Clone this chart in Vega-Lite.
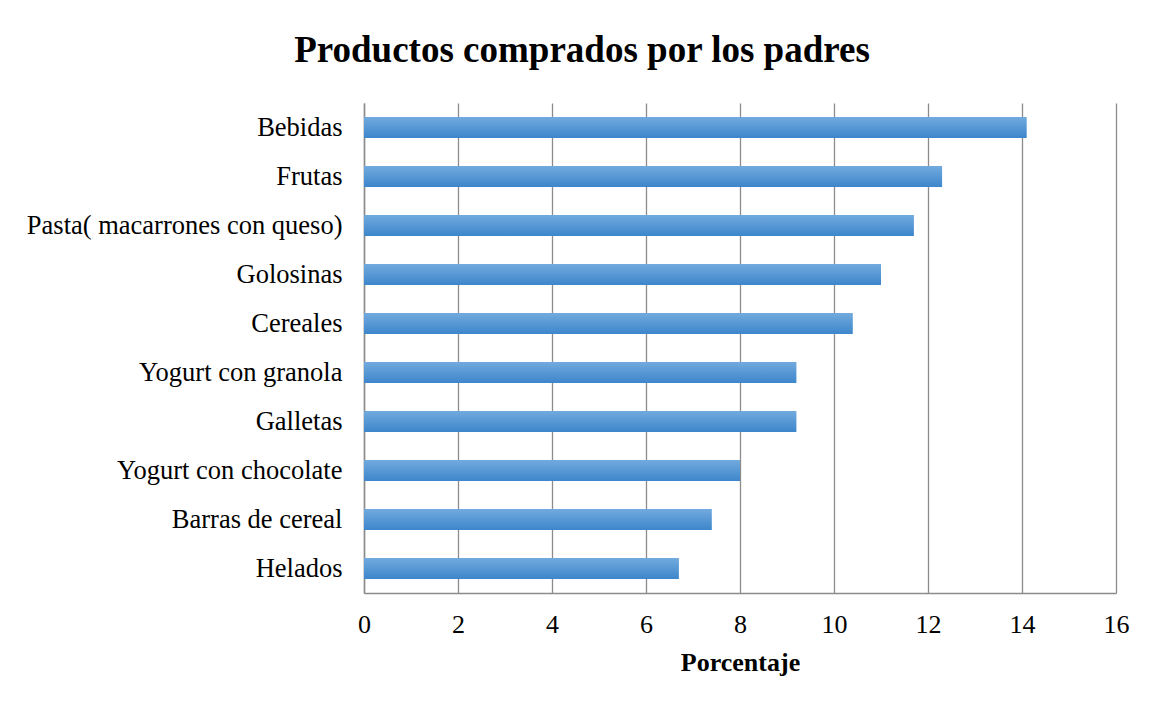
{
  "$schema": "https://vega.github.io/schema/vega-lite/v6.json",
  "width": 752,
  "height": 490,
  "autosize": {"type": "none"},
  "padding": {"left": 364, "top": 103, "right": 33, "bottom": 113},
  "background": "white",
  "title": {
    "text": "Productos comprados por los padres",
    "font": "Liberation Serif",
    "fontSize": 37,
    "fontWeight": "bold",
    "color": "#000000",
    "anchor": "middle",
    "dx": -158,
    "offset": 33
  },
  "data": {
    "values": [
      {"producto": "Bebidas", "valor": 14.1},
      {"producto": "Frutas", "valor": 12.3},
      {"producto": "Pasta( macarrones con queso)", "valor": 11.7},
      {"producto": "Golosinas", "valor": 11.0},
      {"producto": "Cereales", "valor": 10.4},
      {"producto": "Yogurt con granola", "valor": 9.2},
      {"producto": "Galletas", "valor": 9.2},
      {"producto": "Yogurt con chocolate", "valor": 8.0},
      {"producto": "Barras de cereal", "valor": 7.4},
      {"producto": "Helados", "valor": 6.7}
    ]
  },
  "mark": {
    "type": "bar",
    "color": {
      "gradient": "linear",
      "x1": 0, "y1": 0, "x2": 0, "y2": 1,
      "stops": [
        {"offset": 0, "color": "#72aade"},
        {"offset": 1, "color": "#3d86cb"}
      ]
    }
  },
  "encoding": {
    "y": {
      "field": "producto",
      "type": "nominal",
      "sort": null,
      "scale": {"paddingInner": 0.57, "paddingOuter": 0.285},
      "axis": {
        "title": null,
        "labelFont": "Liberation Serif",
        "labelFontSize": 26.5,
        "labelColor": "#000000",
        "labelPadding": 22,
        "ticks": false,
        "domainColor": "#8c8c8c",
        "domainWidth": 1.5,
        "grid": false,
        "labelLimit": 400
      }
    },
    "x": {
      "field": "valor",
      "type": "quantitative",
      "scale": {"domain": [0, 16], "nice": false},
      "axis": {
        "values": [0, 2, 4, 6, 8, 10, 12, 14, 16],
        "title": "Porcentaje",
        "titleFont": "Liberation Serif",
        "titleFontSize": 26,
        "titleFontWeight": "bold",
        "titleColor": "#000000",
        "titlePadding": 12,
        "labelFont": "Liberation Serif",
        "labelFontSize": 26,
        "labelColor": "#000000",
        "labelPadding": 18,
        "labelFlush": false,
        "labelOverlap": false,
        "ticks": false,
        "domainColor": "#8c8c8c",
        "domainWidth": 1.5,
        "grid": true,
        "gridColor": "#8c8c8c",
        "gridWidth": 1.3
      }
    }
  },
  "config": {"view": {"stroke": null}}
}
